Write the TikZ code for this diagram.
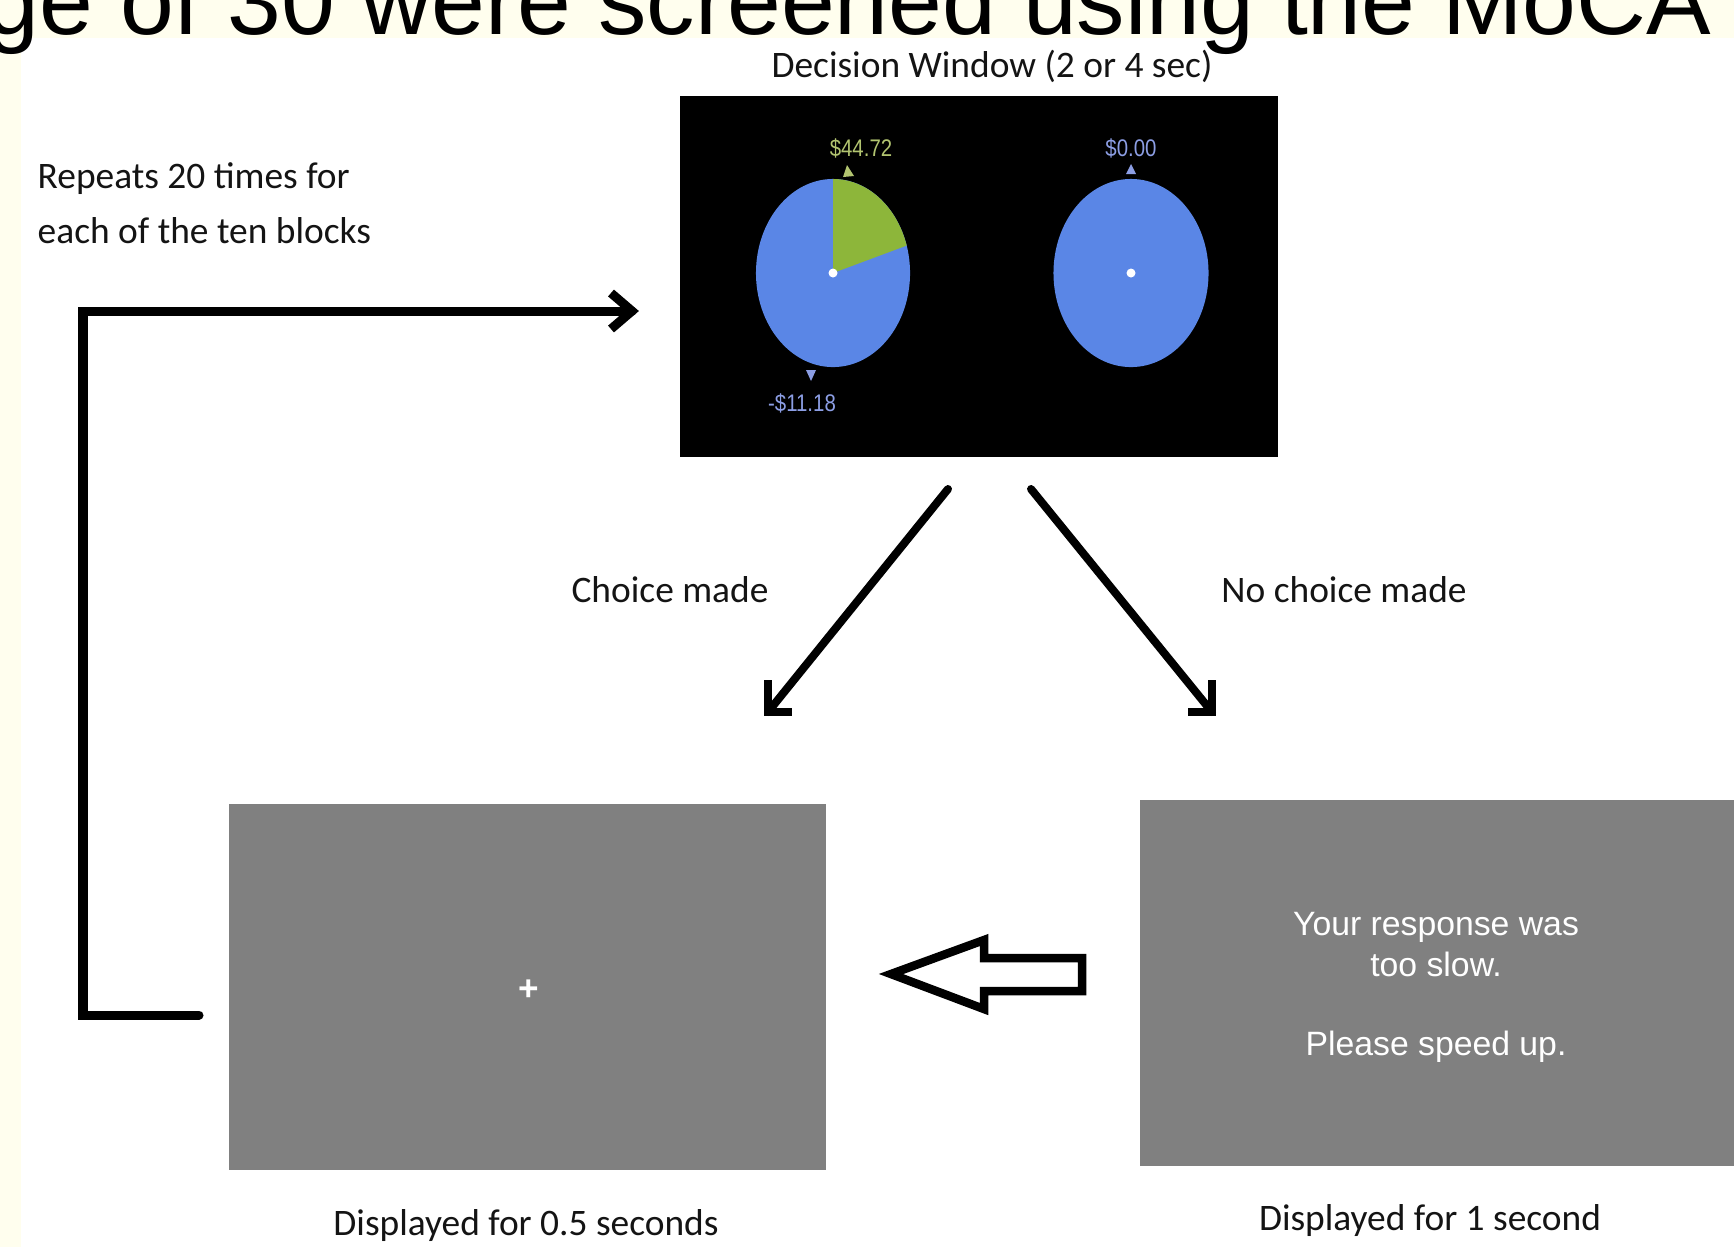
\documentclass[tikz,border=0pt]{standalone}
\usepackage{graphicx}
\usepackage{fontspec}
\setmainfont{Carlito}
\newfontfamily\arialf{Liberation Sans}
\usetikzlibrary{calc}
\definecolor{cream}{RGB}{255,254,238}
\definecolor{pieblue}{RGB}{90,134,230}
\definecolor{piegreen}{RGB}{141,182,58}
\definecolor{lblgreen}{RGB}{178,196,112}
\definecolor{lblblue}{RGB}{140,158,228}
\definecolor{screengray}{RGB}{128,128,128}
\definecolor{ink}{RGB}{20,20,20}
\begin{document}
\begin{tikzpicture}[x=0.01cm, y=-0.01cm,
  lbl/.style={font=\fontsize{10.64}{15.65}\selectfont, text=ink, inner sep=0},
  screen/.style={inner sep=0, draw=none},
  loopline/.style={line width=0.09cm, draw=black, line join=miter},
  arrowline/.style={line width=0.08cm, draw=black, line cap=round},
  headline/.style={line width=0.08cm, draw=black, line join=miter, line cap=butt},
  scrtext/.style={font=\arialf\fontsize{9.6}{11.6}\selectfont, text=white, inner sep=0},
  pielbl/.style={font=\arialf\fontsize{6.83}{8}\selectfont, inner sep=0}]
\useasboundingbox (0,0) rectangle (1734,1247);
\clip (0,0) rectangle (1734,1247);
% background
\fill[white] (0,0) rectangle (1734,1247);
\fill[cream] (0,0) rectangle (1734,38);
\fill[cream] (0,0) rectangle (21,1247);
% cut-off heading
\node[anchor=base west, inner sep=0, font=\arialf\fontsize{27.5}{30}\selectfont, text=black] (heading) at (-15,34) {ge of 30 were screened using the MoCA};

% decision window screen
\node[screen, fill=black, minimum width=5.98cm, minimum height=3.61cm] (dw) at (979,276.5) {};
\fill[pieblue] (833,273) ellipse [x radius=0.77cm, y radius=0.94cm];
\fill[piegreen] (833,273) -- ($(833,273)+(0,-94)$) arc[start angle=90, end angle=17, x radius=0.77cm, y radius=0.94cm] -- cycle;
\fill[white] (833,273) circle[radius=0.045cm];
\fill[pieblue] (1131,273) ellipse [x radius=0.775cm, y radius=0.94cm];
\fill[white] (1131,273) circle[radius=0.045cm];
\node[pielbl, text=lblgreen] (gainlbl) at (861,148) {\scalebox{0.85}[1]{\$44.72}};
\node[pielbl, text=lblblue] (losslbl) at (802,403) {\scalebox{0.85}[1]{-\$11.18}};
\node[pielbl, text=lblblue] (zerolbl) at (1131,148) {\scalebox{0.85}[1]{\$0.00}};
\fill[lblgreen] (843,177) -- (854,176) -- (847,165) -- cycle;
\fill[lblblue] (806,370) -- (816,370) -- (811,381) -- cycle;
\fill[lblblue] (1126,174) -- (1136,174) -- (1131,164) -- cycle;
\node[lbl, anchor=base] (dwcap) at (992,77) {Decision Window (2 or 4 sec)};

% fixation screen
\node[screen, fill=screengray, minimum width=5.97cm, minimum height=3.66cm] (fix) at (527.5,987) {};
\node[font=\arialf\bfseries\fontsize{10}{10}\selectfont, text=white, inner sep=0] (plus) at (529,990) {+};
\node[lbl, anchor=base] (fixcap) at (526,1235) {Displayed for 0.5 seconds};

% too slow screen
\node[screen, fill=screengray, minimum width=6.04cm, minimum height=3.66cm] (slow) at (1442,983) {};
\node[scrtext, anchor=north, align=center] (slowtxt) at (1436,912) {Your response was\\too slow.\\[10.9pt]Please speed up.};
\node[lbl, anchor=base] (slowcap) at (1430,1230) {Displayed for 1 second};

% labels
\node[lbl, anchor=north west, align=left] (rep) at (37,162) {Repeats 20 times for\\each of the ten blocks};
\node[lbl, anchor=base] (chlbl) at (670,602) {Choice made};
\node[lbl, anchor=base] (nclbl) at (1344,602) {No choice made};

% branch arrows
\coordinate (chA) at (948,489);
\coordinate (chB) at (768,712);
\coordinate (ncA) at (1031,489);
\coordinate (ncB) at (1212,712);
\draw[arrowline] (chA) -- (chB);
\draw[headline] ($(chB)+(0,-32)$) -- (chB) -- ($(chB)+(24,0)$);
\draw[arrowline] (ncA) -- (ncB);
\draw[headline] ($(ncB)+(0,-32)$) -- (ncB) -- ($(ncB)+(-24,0)$);

% loop arrow
\coordinate (loopS) at (199,1015);
\coordinate (loopT) at (632,311);
\draw[loopline, line cap=round] (loopS) -- ++(-116,0) |- (loopT);
\draw[loopline] ($(loopT)+(-21,-18)$) -- (loopT) -- ($(loopT)+(-21,18)$);

% hollow back arrow
\coordinate (baTip) at (891,974);
\draw[line width=0.085cm, line join=miter, fill=white] (baTip) -- (984,940) -- (984,958) -- (1082,958) -- (1082,991) -- (984,991) -- (984,1009) -- cycle;
\end{tikzpicture}
\end{document}
